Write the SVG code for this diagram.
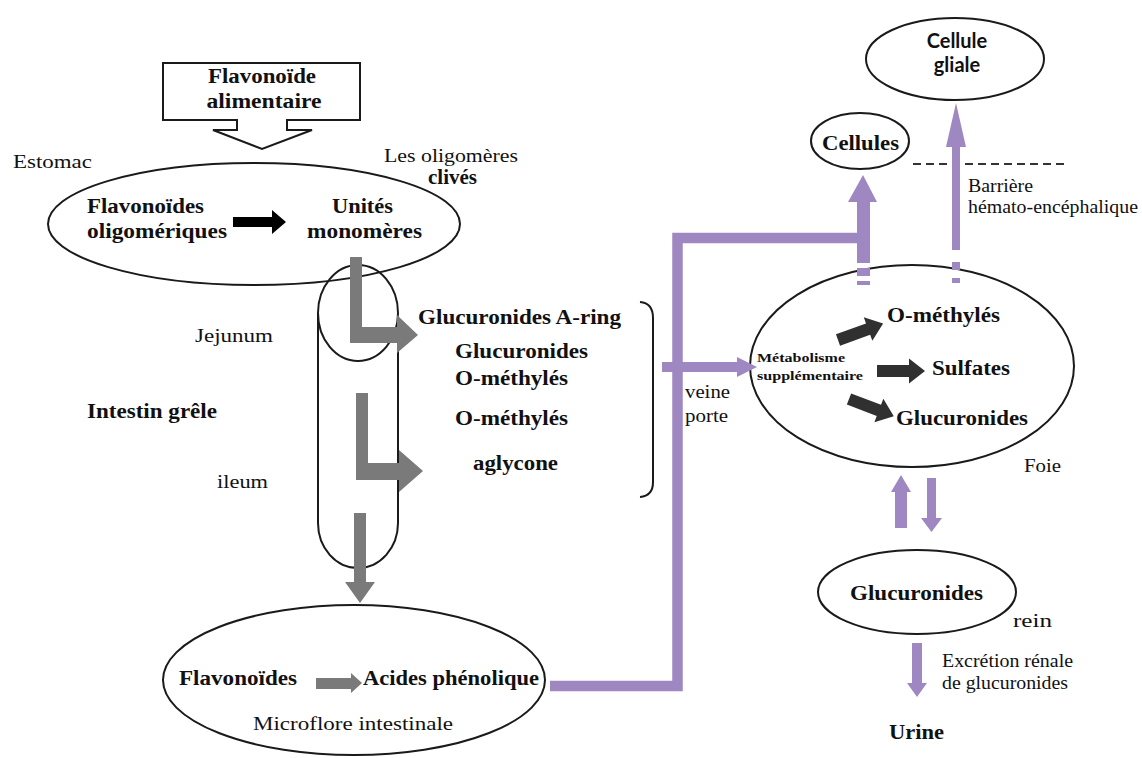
<svg xmlns="http://www.w3.org/2000/svg" width="1142" height="758" viewBox="0 0 1142 758">
<defs>
<style>
text{font-family:"Liberation Serif","Times New Roman",serif;fill:#111;}
.b{font-weight:bold;font-size:20px;}
.r{font-size:19px;}
.s{font-family:Lato,"Open Sans","Liberation Sans",sans-serif;font-weight:bold;font-size:20px;}
.sm{font-weight:bold;font-size:13px;}
.shape{fill:#fff;stroke:#1a1a1a;stroke-width:2;}
.none{fill:none;stroke:#1a1a1a;stroke-width:2;}
.gray{fill:#7a7a7a;}
.dark{fill:#303030;}
.pur{fill:#9f88c2;}
</style>
<path id="blk" d="M0,-6 L32,-6 L32,-12.5 L48,0 L32,12.5 L32,6 L0,6 Z"/>
</defs>
<rect width="1142" height="758" fill="#fff"/>

<g id="food">
<polygon class="shape" points="163,63 360,63 360,120 287,120 287,130 312,130 262,149 213,130 237,130 237,120 163,120"/>
<text class="b" x="262" y="83" text-anchor="middle" textLength="108" lengthAdjust="spacingAndGlyphs">Flavonoïde</text>
<text class="b" x="264" y="108" text-anchor="middle" textLength="115" lengthAdjust="spacingAndGlyphs">alimentaire</text>
</g>

<g id="labels-left">
<text class="r" x="13" y="168" textLength="79" lengthAdjust="spacingAndGlyphs">Estomac</text>
<text class="r" x="384" y="162" textLength="134" lengthAdjust="spacingAndGlyphs">Les oligomères</text>
<text class="b" x="428" y="184" font-size="18" textLength="49" lengthAdjust="spacingAndGlyphs">clivés</text>
<text class="r" x="195" y="342" textLength="78" lengthAdjust="spacingAndGlyphs">Jejunum</text>
<text class="b" x="87" y="418" textLength="130" lengthAdjust="spacingAndGlyphs">Intestin grêle</text>
<text class="r" x="217" y="488" textLength="51" lengthAdjust="spacingAndGlyphs">ileum</text>
</g>

<g id="stomach">
<ellipse class="shape" cx="254" cy="224" rx="206" ry="61"/>
<text class="b" x="87" y="213" textLength="117" lengthAdjust="spacingAndGlyphs">Flavonoïdes</text>
<text class="b" x="87" y="238" textLength="140" lengthAdjust="spacingAndGlyphs">oligomériques</text>
<text class="b" x="332" y="213" textLength="61" lengthAdjust="spacingAndGlyphs">Unités</text>
<text class="b" x="307" y="238" textLength="115" lengthAdjust="spacingAndGlyphs">monomères</text>
<polygon fill="#000" points="233,217 272,217 272,210 286,222 272,234 272,227 233,227"/>
</g>

<g id="intestine">
<path class="none" d="M318,313 L318,523 A40,45 0 0 0 398,523 L398,350"/>
<ellipse class="none" cx="358" cy="313" rx="40" ry="48"/>
</g>

<g id="products">
<text class="b" x="418" y="324" textLength="203" lengthAdjust="spacingAndGlyphs">Glucuronides A-ring</text>
<text class="b" x="455" y="358" textLength="133" lengthAdjust="spacingAndGlyphs">Glucuronides</text>
<text class="b" x="455" y="385" textLength="113" lengthAdjust="spacingAndGlyphs">O-méthylés</text>
<text class="b" x="455" y="425" textLength="113" lengthAdjust="spacingAndGlyphs">O-méthylés</text>
<text class="b" x="473" y="470" textLength="85" lengthAdjust="spacingAndGlyphs">aglycone</text>
<path class="none" d="M640,302 Q653,303 653,318 L653,482 Q653,496 640,497"/>
</g>

<g id="microflore">
<ellipse class="shape" cx="354" cy="680" rx="191" ry="75"/>
<text class="b" x="179" y="685" textLength="118" lengthAdjust="spacingAndGlyphs">Flavonoïdes</text>
<text class="b" x="363" y="685" textLength="176" lengthAdjust="spacingAndGlyphs">Acides phénolique</text>
<text class="r" x="253" y="730" textLength="200" lengthAdjust="spacingAndGlyphs">Microflore intestinale</text>
<polygon class="gray" points="316,678 351,678 351,673 362,683 351,693 351,689 316,689"/>
</g>

<g id="liver">
<ellipse class="shape" cx="912" cy="366" rx="162" ry="101"/>
<text class="sm" x="757" y="362" textLength="88" lengthAdjust="spacingAndGlyphs">Métabolisme</text>
<text class="sm" x="757" y="380" textLength="106" lengthAdjust="spacingAndGlyphs">supplémentaire</text>
<text class="b" x="887" y="322" textLength="113" lengthAdjust="spacingAndGlyphs">O-méthylés</text>
<text class="b" x="932" y="375" textLength="78" lengthAdjust="spacingAndGlyphs">Sulfates</text>
<text class="b" x="896" y="425" textLength="132" lengthAdjust="spacingAndGlyphs">Glucuronides</text>
<text class="r" x="1024" y="472" textLength="37" lengthAdjust="spacingAndGlyphs">Foie</text>
<use href="#blk" class="dark" transform="translate(838,340) rotate(-20)"/>
<use href="#blk" class="dark" transform="translate(877,371)"/>
<use href="#blk" class="dark" transform="translate(849,399) rotate(21)"/>
</g>

<g id="cellules">
<ellipse class="shape" cx="860" cy="141" rx="49" ry="28"/>
<text class="b" x="822" y="150" textLength="77" lengthAdjust="spacingAndGlyphs">Cellules</text>
</g>

<g id="gliale">
<ellipse class="shape" cx="955" cy="59" rx="89" ry="41"/>
<text class="s" x="957" y="48" text-anchor="middle">Cellule</text>
<text class="s" x="957" y="72" text-anchor="middle">gliale</text>
</g>

<g id="barrier">
<line x1="913" y1="164" x2="1065" y2="164" stroke="#333" stroke-width="2" stroke-dasharray="8,5"/>
<text class="r" x="968" y="192" textLength="65" lengthAdjust="spacingAndGlyphs">Barrière</text>
<text class="r" x="968" y="213" textLength="170" lengthAdjust="spacingAndGlyphs">hémato-encéphalique</text>
</g>

<g id="kidney">
<ellipse class="shape" cx="917" cy="592" rx="99" ry="42"/>
<text class="b" x="850" y="600" textLength="133" lengthAdjust="spacingAndGlyphs">Glucuronides</text>
<text class="r" x="1013" y="627" textLength="39" lengthAdjust="spacingAndGlyphs">rein</text>
<text class="r" x="942" y="667" textLength="131" lengthAdjust="spacingAndGlyphs">Excrétion rénale</text>
<text class="r" x="942" y="689" textLength="126" lengthAdjust="spacingAndGlyphs">de glucuronides</text>
</g>

<g id="urine">
<text class="b" x="889" y="739" textLength="55" lengthAdjust="spacingAndGlyphs">Urine</text>
</g>

<g id="vein-label">
<text class="r" x="685" y="398" textLength="45" lengthAdjust="spacingAndGlyphs">veine</text>
<text class="r" x="685" y="422" textLength="43" lengthAdjust="spacingAndGlyphs">porte</text>
</g>

<g id="connectors">
<polygon class="gray" points="350,257 362,257 362,327 397,327 397,315 418,335 397,353 397,343 350,343"/>
<polygon class="gray" points="356,393 368,393 368,463 399,463 399,450 423,471 399,492 399,480 356,480"/>
<polygon class="gray" points="354,513 366,513 366,582 375,582 360,603 345,582 354,582"/>
<path d="M550,686 L677.5,686 L677.5,238 L863,238" fill="none" stroke="#9f88c2" stroke-width="10.5" stroke-linejoin="miter"/>
<polygon class="pur" points="857,263 857,202 848,202 863,175 877,202 870,202 870,263"/>
<rect class="pur" x="857" y="268" width="13" height="8"/>
<rect class="pur" x="857" y="281" width="13" height="4"/>
<polygon class="pur" points="952,250 952,147 946,147 956,103 966,147 960,147 960,250"/>
<rect class="pur" x="952" y="262" width="8" height="8"/>
<rect class="pur" x="952" y="278" width="8" height="5"/>
<polygon class="pur" points="662,362 737,362 737,357 757,367 737,377 737,372 662,372"/>
<polygon class="pur" points="895,528 895,492 891,492 901,475 911,492 907,492 907,528"/>
<polygon class="pur" points="927,478 936,478 936,518 942,518 931.5,532 921,518 927,518"/>
<polygon class="pur" points="912,643 922,643 922,683 927,683 917,697 907,683 912,683"/>
</g>
</svg>
